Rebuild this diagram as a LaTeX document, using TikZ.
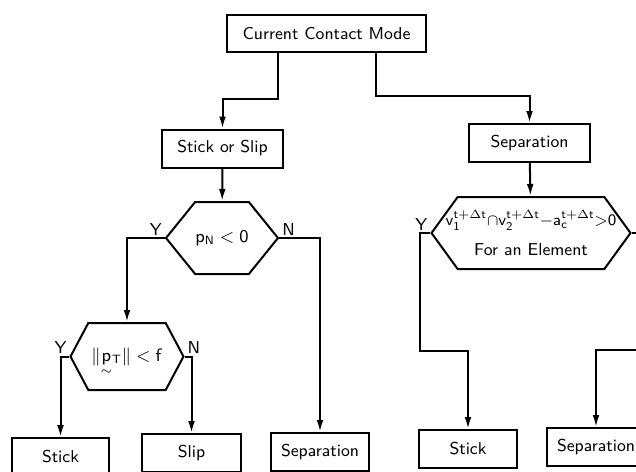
\documentclass[tikz,border=0pt]{standalone}
\usepackage{amsmath,amssymb}
\usepackage{tikz}
\usetikzlibrary{positioning,arrows.meta,shapes.symbols}
\newcommand{\tdt}{\mathsf{t}{+}\Delta\mathsf{t}}

\begin{document}
\begin{tikzpicture}[
  x=0.5pt, y=-0.5pt,
  every node/.style={font=\fontsize{8.6}{11}\sffamily},
  box/.style ={draw, line width=1pt, minimum height=19pt, inner sep=2pt,
               align=center},
  test/.style={draw, line width=1pt, signal, signal to=west and east,
               inner sep=1pt, align=center},
  yn/.style  ={inner sep=1pt},
  arr/.style ={-{Latex[length=6pt,width=3.4pt]}, line width=1pt}
]
\useasboundingbox (0,0) rectangle (636,471);
\clip (0,0) rectangle (636,471);

% boxes
\node[box, minimum width=99.5pt, minimum height=18.5pt] (cur) at (326.5,33.5) {Current Contact Mode};
\node[box, minimum width=60.5pt] (sos) at (222.5,148.5) {Stick or Slip};
\node[box, minimum width=60.5pt] (sepA) at (529.5,143) {Separation};

% tests
\node[test, inner xsep=-0.5pt, minimum width=56pt, minimum height=36pt, signal pointer angle=102] (pn) at (222,238) {$\mathsf{p}_{\mathsf{N}} < \mathsf{0}$};
\node[test, inner xsep=-8.5pt, minimum width=99.5pt, minimum height=36pt, signal pointer angle=108] (vc) at (531,233)
  {{\fontsize{7.9}{9}\selectfont$\mathsf{v}_{\mathsf{1}}^{\tdt}{\cap}\mathsf{v}_{\mathsf{2}}^{\tdt}{-}\mathsf{a}_{\mathsf{c}}^{\tdt}{>}\mathsf{0}$}\\[4pt] For an Element};
\node[test, inner xsep=-3pt, minimum width=56.5pt, minimum height=33.5pt, signal pointer angle=124] (pt) at (127,356.5)
  {$\|\smash[b]{\underset{\sim}{\mathsf{p}}}_{\mathsf{T}}\| < \mathsf{f}$};

% results
\node[box, minimum width=48.5pt] (stkA) at (60.5,457) {Stick};
\node[box, minimum width=49.5pt] (slip) at (191.5,453) {Slip};
\node[box, minimum width=49pt] (sepB) at (320,452) {Separation};
\node[box, minimum width=49pt] (stkB) at (468,449) {Stick};
\node[box, minimum width=49pt] (sepC) at (596,447) {Separation};

\draw[arr] ([xshift=-24.25pt]cur.south) -- ++(0,46) -| (sos.north);
\draw[arr] ([xshift=24.75pt]cur.south) -- ++(0,43) -| (sepA.north);
\draw[arr] (sos) -- (pn);
\draw[arr] (sepA) -- (vc);
\draw[arr] (pn.west) node[yn, above left] (pnY) {Y} -| (pt.north);
\draw[arr] (pn.east) node[yn, above right] (pnN) {N} -| (sepB.north);
\draw[arr] (pt.west) node[yn, above left] (ptY) {Y} -| (stkA.north);
\draw[arr] (pt.east) node[yn, above right] (ptN) {N} -| (slip.north);
\draw[arr] (vc.west) node[yn, above left] (vcY) {Y} -| ++(-10,118) -| (stkB.north);
\draw[arr] (vc.east) node[yn, above right] (vcN) {N} -| ++(16,117) -| (sepC.north);
\end{tikzpicture}
\end{document}
